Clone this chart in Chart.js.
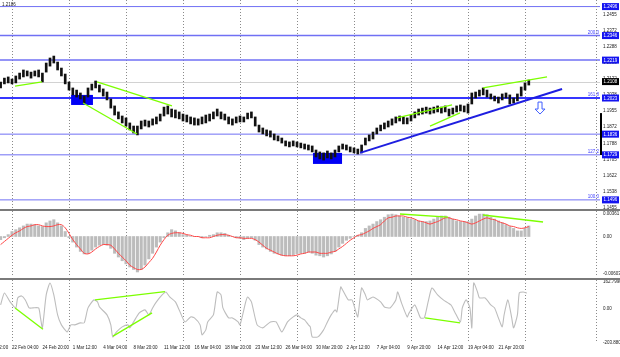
<!DOCTYPE html>
<html><head><meta charset="utf-8">
<script src="https://cdn.jsdelivr.net/npm/chart.js@4.4.0/dist/chart.umd.min.js"></script>
<style>
html,body{margin:0;padding:0;background:#fff;width:620px;height:357px;overflow:hidden;position:relative}
canvas{position:absolute;left:0}
.sep{position:absolute;left:0;width:620px;height:2px;background:#7a7a7a}
</style></head>
<body>
<canvas id="cMain" width="620" height="212" style="top:0px"></canvas>
<canvas id="cMacd" width="620" height="66" style="top:211px"></canvas>
<canvas id="cCci" width="620" height="77" style="top:280px"></canvas>
<div class="sep" style="top:209px"></div>
<div class="sep" style="top:278px"></div>
<script>
// ---- price (H4 bars, sampled every 2 bars) ----
const priceHigh = [
1.2106,1.2126,1.2132,1.2121,1.2137,1.2152,1.2168,1.2163,1.2157,1.2163,
1.2168,1.2152,1.2204,1.2230,1.2240,1.2209,1.2178,1.2147,1.2106,1.2075,
1.2064,1.2049,1.2033,1.2075,1.2095,1.2111,1.2090,1.2070,1.2054,1.2018,
1.1982,1.1951,1.1930,1.1920,1.1894,1.1878,1.1878,1.1904,1.1909,1.1904,
1.1915,1.1925,1.1940,1.1976,1.1982,1.1966,1.1961,1.1951,1.1940,1.1935,
1.1925,1.1920,1.1915,1.1925,1.1935,1.1940,1.1951,1.1966,1.1951,1.1940,
1.1925,1.1915,1.1925,1.1930,1.1925,1.1945,1.1951,1.1925,1.1883,1.1868,
1.1858,1.1853,1.1837,1.1827,1.1816,1.1801,1.1796,1.1801,1.1796,1.1790,
1.1785,1.1780,1.1775,1.1754,1.1744,1.1739,1.1749,1.1739,1.1754,1.1775,
1.1785,1.1780,1.1770,1.1765,1.1759,1.1780,1.1816,1.1832,1.1847,1.1868,
1.1883,1.1894,1.1904,1.1915,1.1925,1.1930,1.1925,1.1920,1.1935,1.1951,
1.1966,1.1971,1.1976,1.1971,1.1976,1.1982,1.1976,1.1982,1.1966,1.1971,
1.1982,1.1987,1.1982,1.1992,1.2049,1.2054,1.2064,1.2075,1.2064,1.2044,
1.2033,1.2028,1.2044,1.2049,1.2039,1.2023,1.2044,1.2080,1.2101,1.2116];
const priceLow = [
1.2075,1.2096,1.2101,1.2096,1.2101,1.2121,1.2132,1.2137,1.2126,1.2137,
1.2132,1.2106,1.2157,1.2188,1.2204,1.2168,1.2137,1.2096,1.2064,1.2039,
1.2028,1.2018,1.1997,1.2028,1.2064,1.2075,1.2054,1.2033,1.2013,1.1971,
1.1935,1.1915,1.1894,1.1878,1.1858,1.1842,1.1832,1.1863,1.1878,1.1873,
1.1883,1.1889,1.1904,1.1930,1.1940,1.1925,1.1920,1.1915,1.1904,1.1899,
1.1889,1.1883,1.1883,1.1889,1.1894,1.1904,1.1915,1.1930,1.1915,1.1909,
1.1889,1.1883,1.1894,1.1899,1.1899,1.1915,1.1920,1.1878,1.1847,1.1837,
1.1827,1.1821,1.1806,1.1801,1.1790,1.1775,1.1770,1.1775,1.1770,1.1765,
1.1759,1.1754,1.1744,1.1718,1.1708,1.1702,1.1713,1.1708,1.1718,1.1744,
1.1759,1.1754,1.1744,1.1739,1.1733,1.1739,1.1780,1.1801,1.1811,1.1837,
1.1853,1.1863,1.1873,1.1883,1.1894,1.1904,1.1889,1.1889,1.1904,1.1920,
1.1935,1.1940,1.1945,1.1940,1.1945,1.1951,1.1945,1.1951,1.1930,1.1940,
1.1951,1.1956,1.1951,1.1945,1.1992,1.2023,1.2033,1.2039,1.2028,1.2018,
1.2008,1.1997,1.2013,1.2023,1.1992,1.1997,1.2008,1.2033,1.2064,1.2090];
// ---- MACD ----
const macdHist = [
-0.0005,-0.0002,0.0003,0.0008,0.0011,0.0014,0.0017,0.0020,0.0020,0.0019,
0.0017,0.0016,0.0022,0.0025,0.0027,0.0022,0.0017,0.0008,-0.0002,-0.0009,
-0.0017,-0.0024,-0.0028,-0.0027,-0.0022,-0.0017,-0.0014,-0.0013,-0.0014,-0.0019,
-0.0027,-0.0033,-0.0039,-0.0044,-0.0049,-0.0053,-0.0057,-0.0053,-0.0046,-0.0036,
-0.0027,-0.0017,-0.0009,-0.0002,0.0006,0.0011,0.0009,0.0006,0.0003,0.0002,
0.0000,0.0000,0.0000,-0.0002,0.0000,0.0002,0.0003,0.0006,0.0006,0.0005,
0.0002,0.0000,-0.0002,-0.0003,-0.0005,-0.0003,-0.0002,-0.0006,-0.0013,-0.0017,
-0.0020,-0.0024,-0.0027,-0.0028,-0.0030,-0.0031,-0.0031,-0.0030,-0.0028,-0.0027,
-0.0027,-0.0025,-0.0027,-0.0030,-0.0031,-0.0033,-0.0031,-0.0028,-0.0024,-0.0017,
-0.0011,-0.0006,-0.0003,0.0000,0.0002,0.0006,0.0013,0.0017,0.0020,0.0024,
0.0027,0.0031,0.0035,0.0036,0.0035,0.0033,0.0031,0.0030,0.0028,0.0027,
0.0025,0.0024,0.0024,0.0025,0.0028,0.0031,0.0033,0.0033,0.0031,0.0028,
0.0025,0.0024,0.0024,0.0024,0.0028,0.0033,0.0036,0.0036,0.0035,0.0031,
0.0028,0.0025,0.0022,0.0019,0.0016,0.0013,0.0009,0.0009,0.0013,0.0017];
const macdSignal = [
-0.0013,-0.0008,-0.0003,0.0002,0.0006,0.0009,0.0013,0.0016,0.0017,0.0019,
0.0019,0.0017,0.0016,0.0016,0.0017,0.0019,0.0019,0.0014,0.0005,-0.0005,
-0.0013,-0.0020,-0.0027,-0.0028,-0.0025,-0.0020,-0.0016,-0.0013,-0.0013,-0.0014,
-0.0020,-0.0027,-0.0033,-0.0039,-0.0046,-0.0050,-0.0053,-0.0053,-0.0049,-0.0042,
-0.0035,-0.0025,-0.0014,-0.0005,0.0002,0.0005,0.0006,0.0006,0.0005,0.0003,
0.0002,0.0000,0.0000,-0.0002,-0.0002,-0.0002,0.0000,0.0002,0.0003,0.0003,
0.0002,0.0000,-0.0002,-0.0002,-0.0003,-0.0003,-0.0003,-0.0005,-0.0009,-0.0014,
-0.0019,-0.0022,-0.0025,-0.0028,-0.0030,-0.0031,-0.0031,-0.0031,-0.0030,-0.0028,
-0.0027,-0.0025,-0.0025,-0.0025,-0.0027,-0.0027,-0.0027,-0.0025,-0.0024,-0.0020,
-0.0016,-0.0011,-0.0006,-0.0002,0.0002,0.0003,0.0006,0.0009,0.0013,0.0016,
0.0019,0.0025,0.0030,0.0031,0.0033,0.0033,0.0033,0.0031,0.0030,0.0028,
0.0025,0.0024,0.0022,0.0020,0.0022,0.0024,0.0027,0.0030,0.0030,0.0028,
0.0027,0.0025,0.0024,0.0022,0.0020,0.0022,0.0025,0.0028,0.0030,0.0028,
0.0027,0.0024,0.0022,0.0020,0.0017,0.0016,0.0014,0.0013,0.0014,0.0016];
// ---- CCI-type oscillator ----
const cciBars = [-6,-4,-1,2,3,5,7,9,11,14, 15,16,18,20,22,24,26,29,31,33,
36,38,40,43,45,46,50,52,53,55, 58,61,62,64,67,70,72,74,76,79,
81,83,86,88,91,94,96,99,100,102, 103,106,108,110,111,114,116,119,120,123,
124,126,129,132,136,139,142,145,148,150, 152,154,156,157,158,161,164,166,168,170,
171,173,174,177,179,181,182,184,186,187, 190,194,196,199,202,203,205,208,209,212,
215,217,219,221,224,227,231,233,236,237, 239,241,242,243,245,246,249,252,254,256,
258,259,261,263,264,266,267,269,271];
const cciValues = [25,97,43,7,67,79,55,7,7,7, -53,-113,85,157,85,-35,-95,-137,-95,-95,
-83,-83,7,55,43,13,-35,-95,-167,-137, -107,-95,-113,-77,-23,-5,-35,7,43,85,
103,73,43,-5,-77,-47,-53,-95,-155,-125, -77,-35,103,85,7,-53,-53,-77,-95,43,
73,43,-95,-113,-77,-77,-137,-77,-47,-35, -53,-65,-95,-107,-167,-167,-125,-77,-35,-5,
-17,133,115,55,55,-17,-47,127,85,55, 73,43,13,7,55,103,37,-47,-23,25,
-53,-53,43,127,85,55,25,-17,-77,7, 55,7,-113,157,103,67,67,25,7,-53,
-107,-35,55,-53,-113,-35,97,103,97];
// ---- axes / annotations ----
const priceBars = priceHigh.map((_, i) => -6 + 2 * i); // bar index of each sample (22 Feb 04:00 = 0)
const gridBars = [0,30,60,90,120,150,180,210,240,270];
const shiftBar = 307.4;
const labelBars = [-16,0,16,32,48,64,80,96,112,128,144,160,176,192,208,224,240,256];
const timeLabels = ['17 Feb 12:00','22 Feb 04:00','24 Feb 20:00','1 Mar 12:00','4 Mar 04:00','8 Mar 20:00',
'11 Mar 12:00','16 Mar 04:00','18 Mar 20:00','23 Mar 12:00','26 Mar 04:00','30 Mar 20:00','2 Apr 12:00',
'7 Apr 04:00','9 Apr 20:00','14 Apr 12:00','19 Apr 04:00','21 Apr 20:00'];
const priceTicks = [1.2455,1.2372,1.2288,1.2205,1.2122,1.2038,1.1955,1.1872,1.1788,1.1705,1.1622,1.1538,1.1455];
const levelPrices = [1.2496,1.2346,1.2219,1.2023,1.1836,1.1729,1.1496];
const levelFib = ['','200.0','','161.8','','127.2','100.0'];
const bidPrice = 1.2108;
const zones = [[31.1,1.2039,42.6,1.1987],[158.4,1.1739,173.7,1.1682]];
const priceGreen = [[1.6,1.2085,15.8,1.2106],[44.7,1.2106,84.2,1.1982],[37.4,1.1997,65.8,1.1837],
  [202.6,1.1920,231.6,1.1987],[220,1.1878,235.8,1.1946],[247.9,1.2075,281.6,1.2132]];
const priceBlue = [[183.2,1.1739,289.5,1.2070]];
const arrowMark = [277.9,1.2002,1.1940];
const rangeMark = [1.1945,1.1728];
const topNote = '1.2186';
const macdGreen = [[204.2,0.00362,229.5,0.00313],[247.9,0.00346,279.5,0.00233]];
const macdTicks = [0.00361,0,-0.00603];
const macdTickLabels = ['0.00361','0.00','-0.00603'];
const cciGreen = [[1.6,7,16.3,-121],[43.7,55,80.5,105],[53.2,-163,73.7,-23],[217.4,-53,235.8,-83]];
const cciTicks = [162.799,0,-203.8802];
const cciTickLabels = ['162.7990','0.00','-203.8802'];

const X_MIN = -6.32, X_MAX = 309.47;
const FONT = 'Liberation Sans';
const tickFont = {size: 4.5, family: FONT};

function gridAxis() {
  return {type:'linear', position:'bottom', min:X_MIN, max:X_MAX, offset:false,
    afterBuildTicks: s => { s.ticks = gridBars.map(v => ({value:v})); },
    ticks:{display:false},
    grid:{display:true, offset:false, color:'#8a8a8a', lineWidth:1, drawTicks:false},
    border:{display:false, dash:[1,2]},
    afterFit: s => { s.height = 0; s.paddingLeft = 0; s.paddingRight = 0; }};
}
function rightAxis(min, max, ticks, fmt) {
  return {type:'linear', position:'right', min, max, beginAtZero:false,
    afterBuildTicks: s => { s.ticks = ticks.map(v => ({value:v})); },
    ticks:{callback: fmt, font: tickFont, color:'#1a1a1a', padding:3, autoSkip:false, crossAlign:'near'},
    grid:{display:false, drawTicks:false}, border:{display:false},
    afterFit: s => { s.width = 20; s.paddingTop = 0; s.paddingBottom = 0; }};
}
function seg(s, color, w) {
  return {type:'line', data:[{x:s[0], y:s[1]}, {x:s[2], y:s[3]}], borderColor:color, borderWidth:w,
    pointRadius:0, fill:false, tension:0, order:0};
}
const baseOpts = {responsive:false, animation:false, events:[],
  plugins:{legend:{display:false}, tooltip:{enabled:false}}};

const shiftPlugin = {id:'shiftLine', beforeDatasetsDraw(chart) {
  const {ctx, chartArea:a, scales:{x}} = chart;
  const px = Math.round(x.getPixelForValue(shiftBar)) + 0.5;
  ctx.save(); ctx.strokeStyle = '#8a8a8a'; ctx.lineWidth = 1; ctx.setLineDash([1,2]);
  ctx.beginPath(); ctx.moveTo(px, a.top); ctx.lineTo(px, a.bottom); ctx.stroke(); ctx.restore();
}};

const mainDecor = {id:'mainDecor',
  beforeDatasetsDraw(chart) {
    const {ctx, chartArea:a, scales:{x, y}} = chart;
    ctx.save();
    const yb = Math.round(y.getPixelForValue(bidPrice)) + 0.5;
    ctx.strokeStyle = '#d2d2d2'; ctx.lineWidth = 1;
    ctx.beginPath(); ctx.moveTo(a.left, yb); ctx.lineTo(a.right, yb); ctx.stroke();
    levelPrices.forEach((p, i) => {
      const yy = y.getPixelForValue(p);
      const main = p === 1.2023;
      ctx.strokeStyle = main ? '#3636ff' : '#7070f4';
      ctx.lineWidth = main ? 2 : (i === 1 || i === 2 ? 1.5 : 1);
      ctx.beginPath(); ctx.moveTo(a.left, yy); ctx.lineTo(a.right, yy); ctx.stroke();
    });
    ctx.fillStyle = '#0000f5';
    zones.forEach(z => {
      const x1 = x.getPixelForValue(z[0]), x2 = x.getPixelForValue(z[2]);
      const y1 = y.getPixelForValue(z[1]), y2 = y.getPixelForValue(z[3]);
      ctx.fillRect(x1, y1, x2 - x1, y2 - y1);
    });
    ctx.restore();
  },
  afterDraw(chart) {
    const {ctx, chartArea:a, scales:{x, y}} = chart;
    ctx.save();
    ctx.font = '4.5px ' + FONT;
    ctx.fillStyle = '#3c3cff'; ctx.textAlign = 'right'; ctx.textBaseline = 'bottom';
    levelPrices.forEach((p, i) => { if (levelFib[i]) ctx.fillText(levelFib[i], a.right - 1, y.getPixelForValue(p) - 0.5); });
    ctx.fillStyle = '#000';
    const r1 = y.getPixelForValue(rangeMark[0]), r2 = y.getPixelForValue(rangeMark[1]);
    ctx.fillRect(a.right, r1, 2, r2 - r1);
    const bx = a.right + 2;
    ctx.textAlign = 'left'; ctx.textBaseline = 'middle';
    levelPrices.forEach(p => {
      const yy = y.getPixelForValue(p);
      ctx.fillStyle = '#1414f0'; ctx.fillRect(bx, yy - 3.5, 17, 7);
      ctx.fillStyle = '#fff'; ctx.fillText(p.toFixed(4), bx + 1.5, yy + 0.3);
    });
    const yb = y.getPixelForValue(bidPrice);
    ctx.fillStyle = '#000'; ctx.fillRect(bx, yb - 3.5, 17, 7);
    ctx.fillStyle = '#fff'; ctx.fillText(bidPrice.toFixed(4), bx + 1.5, yb + 0.3);
    const cx = x.getPixelForValue(arrowMark[0]);
    const yT = y.getPixelForValue(arrowMark[1]), yB = y.getPixelForValue(arrowMark[2]);
    ctx.strokeStyle = '#3f5dff'; ctx.lineWidth = 1;
    ctx.beginPath();
    ctx.moveTo(cx - 2, yT); ctx.lineTo(cx + 2, yT); ctx.lineTo(cx + 2, yB - 5); ctx.lineTo(cx + 5, yB - 5);
    ctx.lineTo(cx, yB); ctx.lineTo(cx - 5, yB - 5); ctx.lineTo(cx - 2, yB - 5); ctx.closePath(); ctx.stroke();
    ctx.fillStyle = '#222'; ctx.textAlign = 'left'; ctx.textBaseline = 'middle';
    ctx.fillText(topNote, 2, 5);
    ctx.restore();
  }};

new Chart(document.getElementById('cMain'), {
  type:'bar',
  data:{datasets:[
    ...priceGreen.map(s => seg(s, '#7cff00', 1.3)),
    ...priceBlue.map(s => seg(s, '#1e1ee0', 2)),
    {type:'bar', data: priceBars.map((b, i) => ({x:b, y:[priceLow[i], priceHigh[i]]})),
      backgroundColor:'#111', borderWidth:0, barThickness:2, grouped:false, order:2}
  ]},
  options:Object.assign({}, baseOpts, {layout:{padding:{bottom:4}, autoPadding:false},
    scales:{x:gridAxis(), y:rightAxis(1.1454, 1.2530, priceTicks, v => Number(v).toFixed(4))}}),
  plugins:[mainDecor, shiftPlugin]
});

new Chart(document.getElementById('cMacd'), {
  type:'bar',
  data:{datasets:[
    ...macdGreen.map(s => seg(s, '#7cff00', 1.3)),
    {type:'line', data: priceBars.map((b, i) => ({x:b, y:macdSignal[i]})), borderColor:'#ff4646',
      borderWidth:1, pointRadius:0, tension:0.3, fill:false, order:1},
    {type:'bar', data: priceBars.map((b, i) => ({x:b, y:macdHist[i]})), backgroundColor:'#bcbcbc',
      borderWidth:0, barThickness:2.4, grouped:false, order:2}
  ]},
  options:Object.assign({}, baseOpts, {layout:{padding:0, autoPadding:false},
    scales:{x:gridAxis(), y:rightAxis(-0.00651, 0.0041, macdTicks, (v, i) => macdTickLabels[i])}}),
  plugins:[shiftPlugin]
});

new Chart(document.getElementById('cCci'), {
  type:'line',
  data:{datasets:[
    ...cciGreen.map(s => seg(s, '#7cff00', 1.3)),
    {data: cciBars.map((b, i) => ({x:b, y:cciValues[i]})), borderColor:'#bdbdbd', borderWidth:1.1,
      pointRadius:0, tension:0.2, fill:false, order:1}
  ]},
  options:Object.assign({}, baseOpts, {layout:{padding:0, autoPadding:false},
    scales:{
      x:gridAxis(),
      xl:{type:'linear', position:'bottom', min:X_MIN, max:X_MAX, offset:false,
        afterBuildTicks: s => { s.ticks = labelBars.map(v => ({value:v})); },
        ticks:{callback:(v, i) => timeLabels[i], font:tickFont, color:'#1a1a1a', align:'start',
          maxRotation:0, minRotation:0, autoSkip:false, padding:2},
        grid:{display:false, drawTicks:false}, border:{display:false},
        afterFit: s => { s.height = 14; s.paddingLeft = 0; s.paddingRight = 0; }},
      y:rightAxis(-204, 174.8, cciTicks, (v, i) => cciTickLabels[i])
    }}),
  plugins:[shiftPlugin]
});
</script>
</body></html>
